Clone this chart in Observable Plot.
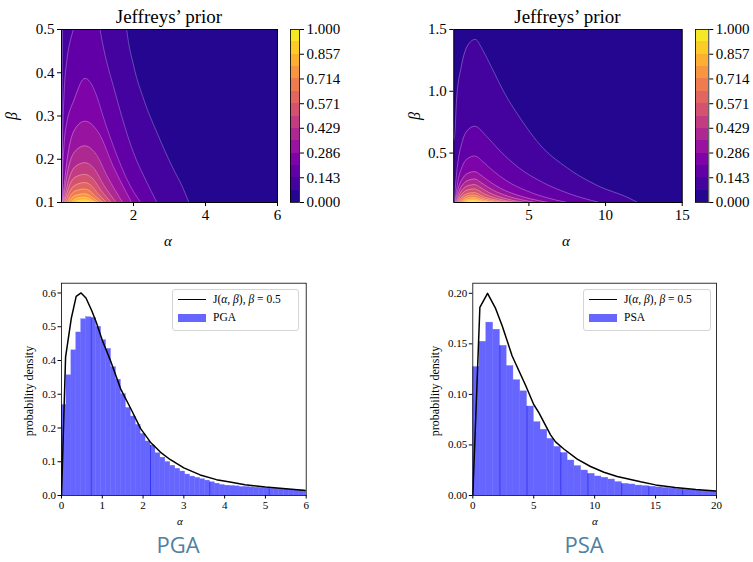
<!DOCTYPE html>
<html><head><meta charset="utf-8">
<script src="https://cdn.jsdelivr.net/npm/d3@7"></script>
<script src="https://cdn.jsdelivr.net/npm/@observablehq/plot@0.6"></script>
<style>
body{margin:0;background:#fff;}
#root{position:relative;width:753px;height:562px;overflow:hidden;font-family:"Liberation Serif",serif;color:#000;}
.abs{position:absolute;white-space:nowrap;line-height:1;}
.legend{position:absolute;border:1px solid #d4d4d4;border-radius:3px;background:rgba(255,255,255,0.8);box-sizing:border-box;}
.row{position:absolute;left:0;font-size:11.5px;line-height:1;white-space:nowrap;}
</style></head><body><div id="root"></div>
<script>
// ---------- data ----------
const contourLevels = [0, 0.0714, 0.1429, 0.2143, 0.2857, 0.3571, 0.4286, 0.5, 0.5714, 0.6429, 0.7143, 0.7857, 0.8571, 0.9286, 1];
const colorbarTicks = [0, 0.143, 0.286, 0.429, 0.571, 0.714, 0.857, 1.0];

// Jeffreys' prior contours, PGA (alpha, beta) points of each level curve (levels 1..13)
const pgaContours = [
 [[0.004,0.1],[0.01,0.232],[0.03,0.5],[0.07,0.7],[1.6,0.7],[1.81,0.5],[2.01,0.414],[2.29,0.337],[2.66,0.26],[3.08,0.182],[3.36,0.136],[3.54,0.1]],
 [[0.008,0.1],[0.01,0.116],[0.03,0.249],[0.07,0.348],[0.15,0.429],[0.25,0.476],[0.33,0.5],[0.45,0.54],[0.65,0.58],[0.95,0.54],[1.07,0.5],[1.12,0.477],[1.49,0.354],[2.0,0.215],[2.35,0.15],[2.65,0.1]],
 [[0.017,0.1],[0.03,0.166],[0.07,0.232],[0.15,0.286],[0.25,0.317],[0.33,0.333],[0.45,0.36],[0.55,0.379],[0.65,0.387],[0.8,0.378],[0.95,0.352],[1.21,0.285],[1.58,0.2],[1.9,0.14],[2.2,0.1]],
 [[0.025,0.1],[0.181,0.213],[0.369,0.269],[0.65,0.288],[1.04,0.26],[1.43,0.185],[1.95,0.1]],
 [[0.04,0.1],[0.19,0.179],[0.376,0.218],[0.65,0.231],[0.965,0.211],[1.28,0.159],[1.7,0.1]],
 [[0.06,0.1],[0.21,0.155],[0.385,0.183],[0.65,0.192],[0.91,0.178],[1.17,0.141],[1.52,0.1]],
 [[0.08,0.1],[0.22,0.139],[0.39,0.159],[0.65,0.165],[0.87,0.155],[1.09,0.129],[1.38,0.1]],
 [[0.11,0.1],[0.245,0.128],[0.407,0.141],[0.65,0.146],[0.83,0.139],[1.01,0.121],[1.25,0.1]],
 [[0.15,0.1],[0.275,0.119],[0.425,0.128],[0.65,0.131],[0.8,0.126],[0.95,0.114],[1.15,0.1]],
 [[0.2,0.1],[0.31,0.112],[0.45,0.118],[0.65,0.12],[0.77,0.117],[0.9,0.109],[1.06,0.1]],
 [[0.27,0.1],[0.365,0.107],[0.48,0.111],[0.65,0.112],[0.75,0.11],[0.85,0.105],[0.98,0.1]],
 [[0.35,0.1],[0.425,0.1036],[0.515,0.1054],[0.65,0.106],[0.73,0.1051],[0.81,0.1027],[0.9,0.1]],
 [[0.45,0.1],[0.5,0.1012],[0.56,0.1018],[0.65,0.102],[0.7,0.1017],[0.76,0.1009],[0.8,0.1]]
];

// Jeffreys' prior contours, PSA
const psaContours = [
 [[0.1,0.6],[0.17,0.66],[0.28,0.93],[0.59,1.2],[1.0,1.37],[1.5,1.42],[2.0,1.33],[2.54,1.2],[3.41,0.985],[4.5,0.77],[5.8,0.556],[7.33,0.395],[9.5,0.235],[11.46,0.14],[12.1,0.1]],
 [[0.12,0.1],[0.32,0.378],[0.656,0.594],[1.06,0.692],[1.46,0.717],[2.27,0.631],[3.09,0.52],[4.31,0.384],[5.94,0.26],[7.57,0.174],[9.6,0.1]],
 [[0.17,0.1],[0.364,0.269],[0.686,0.401],[1.073,0.461],[1.46,0.476],[2.06,0.423],[2.67,0.356],[3.57,0.273],[4.78,0.198],[5.99,0.145],[7.5,0.1]],
 [[0.2,0.1],[0.389,0.2125],[0.704,0.3],[1.082,0.34],[1.46,0.35],[1.94,0.315],[2.43,0.27],[3.15,0.215],[4.12,0.165],[5.09,0.13],[6.3,0.1]],
 [[0.25,0.1],[0.432,0.186],[0.734,0.252],[1.097,0.282],[1.46,0.29],[1.864,0.263],[2.268,0.229],[2.874,0.187],[3.682,0.149],[4.49,0.123],[5.5,0.1]],
 [[0.3,0.1],[0.474,0.165],[0.764,0.216],[1.112,0.239],[1.46,0.245],[1.794,0.225],[2.128,0.199],[2.629,0.167],[3.297,0.138],[3.965,0.117],[4.8,0.1]],
 [[0.35,0.1],[0.517,0.15],[0.794,0.188],[1.127,0.206],[1.46,0.21],[1.744,0.195],[2.028,0.175],[2.454,0.151],[3.022,0.129],[3.59,0.113],[4.3,0.1]],
 [[0.42,0.1],[0.576,0.136],[0.836,0.164],[1.148,0.177],[1.46,0.18],[1.704,0.169],[1.948,0.154],[2.314,0.137],[2.802,0.121],[3.29,0.11],[3.9,0.1]],
 [[0.5,0.1],[0.644,0.127],[0.884,0.148],[1.172,0.158],[1.46,0.16],[1.664,0.152],[1.868,0.141],[2.174,0.128],[2.582,0.116],[2.99,0.107],[3.5,0.1]],
 [[0.6,0.1],[0.729,0.119],[0.944,0.134],[1.202,0.141],[1.46,0.143],[1.624,0.137],[1.788,0.129],[2.034,0.12],[2.362,0.111],[2.69,0.105],[3.1,0.1]],
 [[0.7,0.1],[0.814,0.113],[1.004,0.122],[1.232,0.127],[1.46,0.128],[1.594,0.124],[1.728,0.119],[1.929,0.113],[2.197,0.107],[2.465,0.103],[2.8,0.1]],
 [[0.85,0.1],[0.942,0.108],[1.094,0.114],[1.277,0.116],[1.46,0.117],[1.564,0.115],[1.668,0.112],[1.824,0.108],[2.032,0.104],[2.24,0.102],[2.5,0.1]],
 [[1.0,0.1],[1.069,0.103],[1.184,0.106],[1.322,0.107],[1.46,0.107],[1.534,0.106],[1.608,0.105],[1.719,0.103],[1.867,0.102],[2.015,0.101],[2.2,0.1]]
];

// histograms (probability density per bin)
const pgaBinWidth = 0.1212;
const pgaBars = [0.268,0.356,0.430,0.483,0.522,0.528,0.526,0.500,0.460,0.434,0.380,0.343,0.300,0.259,0.234,0.209,0.182,0.160,0.148,0.125,0.112,0.099,0.088,0.079,0.071,0.062,0.056,0.052,0.048,0.044,0.039,0.035,0.031,0.029,0.028,0.027,0.025,0.025,0.024,0.023,0.022,0.021,0.020,0.020,0.019,0.018,0.017,0.016,0.015,0.014];
const pgaEdgeBins = [6, 18, 30, 42];
const psaBinWidth = 0.5556;
const psaBars = [0.127,0.152,0.171,0.164,0.148,0.128,0.114,0.103,0.088,0.0725,0.065,0.056,0.048,0.042,0.0346,0.029,0.0247,0.0214,0.0188,0.0175,0.0158,0.0132,0.0115,0.0109,0.0098,0.0092,0.0086,0.008,0.0074,0.0068,0.0062,0.0057,0.0052,0.0048,0.0044,0.0040];
const psaEdgeBins = [4, 8, 13, 17, 22, 26, 31];

// J(alpha, beta=0.5) curves
const pgaJAlpha = [0,0.1,0.24,0.36,0.48,0.6,0.74,0.85,1.0,1.2,1.45,1.7,1.94,2.18,2.43,2.67,3.0,3.4,3.8,4.13,4.5,5.0,5.5,6.0];
const pgaJ      = [0,0.41,0.525,0.59,0.60,0.585,0.548,0.514,0.46,0.40,0.316,0.257,0.198,0.158,0.128,0.106,0.082,0.061,0.047,0.040,0.032,0.025,0.020,0.015];
const psaJAlpha = [0,0.58,1.21,1.87,2.41,3.23,4.33,5.0,5.42,6.38,6.79,7.47,8.57,9.66,10.76,11.85,12.95,13.77,15,16.6,18.3,20];
const psaJ      = [0,0.186,0.200,0.185,0.168,0.138,0.109,0.090,0.082,0.060,0.053,0.046,0.036,0.0287,0.023,0.0188,0.0158,0.0135,0.0105,0.0080,0.0060,0.0045];

const pgaXTicks = [0,1,2,3,4,5,6];
const pgaYTicks = [0,0.1,0.2,0.3,0.4,0.5,0.6];
const psaXTicks = [0,5,10,15,20];
const psaYTicks = [0,0.05,0.10,0.15,0.20];

// ---------- helpers ----------
const SERIF = '"Liberation Serif", serif';
const root = document.getElementById("root");
const bandMids = contourLevels.slice(0,-1).map((lo,k)=>(lo+contourLevels[k+1])/2);
const colorScale = {type:"linear", scheme:"plasma", domain:[0,1]};

function put(el, left, top){ el.style.position="absolute"; el.style.left=left+"px"; el.style.top=top+"px"; root.appendChild(el); return el; }
function text(html, left, top, css){ const d=document.createElement("div"); d.className="abs"; d.innerHTML=html; Object.assign(d.style, css||{}); return put(d,left,top); }

function contourChart(curves, o){
  return Plot.plot({
    width:o.width, height:o.height, marginLeft:o.ml, marginRight:o.mr, marginTop:o.mt, marginBottom:o.mb,
    style:{fontFamily:SERIF, fontSize:"15px", color:"black", background:"transparent", overflow:"visible"},
    x:{domain:o.xDomain}, y:{domain:o.yDomain}, color:colorScale,
    marks:[
      Plot.frame({fill:d3.interpolatePlasma(bandMids[0])}),
      ...curves.map((c,i)=>Plot.areaY(c,{x:d=>d[0], y:d=>d[1], fill:()=>bandMids[i+1], curve:"monotone-x", clip:true})),
      ...curves.map(c=>Plot.line(c,{x:d=>d[0], y:d=>d[1], stroke:"white", strokeOpacity:0.4, strokeWidth:0.7, curve:"monotone-x", clip:true})),
      Plot.frame({stroke:"black", strokeWidth:1}),
      Plot.axisX({ticks:o.xTicks, tickSize:4, tickPadding:3, label:null, tickFormat:o.xFmt}),
      Plot.axisY({ticks:o.yTicks, tickSize:4, tickPadding:3, label:null, tickFormat:o.yFmt})
    ]
  });
}

function colorbar(o){
  const bands = contourLevels.slice(0,-1).map((lo,k)=>({lo, hi:contourLevels[k+1], mid:bandMids[k]}));
  return Plot.plot({
    width:o.width, height:o.height, marginLeft:o.ml, marginRight:o.mr, marginTop:o.mt, marginBottom:o.mb,
    style:{fontFamily:SERIF, fontSize:"15px", color:"black", background:"transparent", overflow:"visible"},
    x:{domain:[0,1], axis:null}, y:{domain:[0,1]}, color:colorScale,
    marks:[
      Plot.rect(bands,{x1:0, x2:1, y1:"lo", y2:"hi", fill:"mid", shapeRendering:"crispEdges"}),
      Plot.frame({stroke:"black", strokeWidth:0.8}),
      Plot.axisY({anchor:"right", ticks:colorbarTicks, tickFormat:d3.format(".3f"), tickSize:4, tickPadding:3, label:null})
    ]
  });
}

function histChart(o){
  const bars = o.bars.map((v,i)=>({x1:i*o.bw, x2:(i+1)*o.bw, y:v}));
  const edges = o.edges.map(n=>({x:n*o.bw, y:Math.min(o.bars[n-1], o.bars[n])}));
  const line = o.lx.map((x,i)=>({x, y:o.ly[i]}));
  return Plot.plot({
    width:o.width, height:o.height, marginLeft:o.ml, marginRight:o.mr, marginTop:o.mt, marginBottom:o.mb,
    style:{fontFamily:SERIF, fontSize:"11px", color:"black", background:"transparent", overflow:"visible"},
    x:{domain:o.xDomain}, y:{domain:o.yDomain},
    marks:[
      Plot.rectY(bars,{x1:"x1", x2:"x2", y:"y", fill:"#6666ff", stroke:"#6666ff", strokeWidth:0.4, clip:true}),
      Plot.ruleX(edges,{x:"x", y1:0, y2:"y", stroke:"#3434f4", strokeWidth:1}),
      Plot.line(line,{x:"x", y:"y", stroke:"black", strokeWidth:1.5, clip:true}),
      Plot.frame({stroke:"black", strokeWidth:0.8}),
      Plot.axisX({ticks:o.xTicks, tickSize:3.5, tickPadding:2, label:null, tickFormat:d=>String(d)}),
      Plot.axisY({ticks:o.yTicks, tickSize:3.5, tickPadding:2, label:null, tickFormat:o.yFmt})
    ]
  });
}

// ---------- top row ----------
put(contourChart(pgaContours,{width:285,height:250,ml:61,mr:8,mt:29,mb:48,xDomain:[0,6],yDomain:[0.1,0.5],
  xTicks:[2,4,6],yTicks:[0.1,0.2,0.3,0.4,0.5],xFmt:d=>String(d),yFmt:d3.format(".1f")}),0,0);
put(colorbar({width:73,height:250,ml:10,mr:54,mt:29,mb:48}),280,0);
put(contourChart(psaContours,{width:310,height:250,ml:73.3,mr:8.3,mt:29,mb:48,xDomain:[0.1,15],yDomain:[0.1,1.5],
  xTicks:[5,10,15],yTicks:[0.5,1.0,1.5],xFmt:d=>String(d),yFmt:d3.format(".1f")}),380,0);
put(colorbar({width:68,height:250,ml:10,mr:44.7,mt:29,mb:48}),685,0);

text("Jeffreys’ prior",61,7,{width:"216px",textAlign:"center",fontSize:"19px"});
text("Jeffreys’ prior",453,7,{width:"229px",textAlign:"center",fontSize:"19px"});
text("<i>β</i>",8,108,{fontSize:"16px",transform:"rotate(-90deg)"});
text("<i>β</i>",411,108,{fontSize:"16px",transform:"rotate(-90deg)"});
text("<i>α</i>",164,234,{fontSize:"15px"});
text("<i>α</i>",562,234,{fontSize:"15px"});

// ---------- bottom row ----------
put(histChart({bars:pgaBars,bw:pgaBinWidth,edges:pgaEdgeBins,lx:pgaJAlpha,ly:pgaJ,width:330,height:290,ml:61,mr:24.3,mt:22.7,mb:55,
  xDomain:[0,6],yDomain:[0,0.629],xTicks:pgaXTicks,yTicks:pgaYTicks,yFmt:d3.format(".1f")}),0,260);
put(histChart({bars:psaBars,bw:psaBinWidth,edges:psaEdgeBins,lx:psaJAlpha,ly:psaJ,width:353,height:290,ml:72.3,mr:37,mt:22.7,mb:55,
  xDomain:[0,20],yDomain:[0,0.21],xTicks:psaXTicks,yTicks:psaYTicks,yFmt:d3.format(".2f")}),400,260);

text("probability density",29,391,{fontSize:"12px",transform:"translate(-50%,-50%) rotate(-90deg)"});
text("probability density",435,391,{fontSize:"12px",transform:"translate(-50%,-50%) rotate(-90deg)"});
text("<i>α</i>",177,516,{fontSize:"11px"});
text("<i>α</i>",592,516,{fontSize:"11px"});

function legend(left, width, name, sampleW, textX){
  const box=document.createElement("div"); box.className="legend";
  box.style.width=width+"px"; box.style.height="42px";
  box.innerHTML =
    `<div style="position:absolute;left:5px;top:9px;width:${sampleW}px;height:0;border-top:1.5px solid #000"></div>`+
    `<div class="row" style="left:${textX}px;top:4px">J(<i>α</i>, <i>β</i>), <i>β</i> = 0.5</div>`+
    `<div style="position:absolute;left:5px;top:24px;width:${sampleW}px;height:8px;background:#6666ff"></div>`+
    `<div class="row" style="left:${textX}px;top:22px">${name}</div>`;
  return put(box,left,289);
}
legend(172,127,"PGA",28,40);
legend(583,128,"PSA",28,40);

text("PGA",178,533,{fontFamily:'"Open Sans",sans-serif',fontSize:"22px",lineHeight:"22px",color:"#4f80a3",transform:"translateX(-50%)"});
text("PSA",584,533,{fontFamily:'"Open Sans",sans-serif',fontSize:"22px",lineHeight:"22px",color:"#4f80a3",transform:"translateX(-50%)"});
</script></body></html>
